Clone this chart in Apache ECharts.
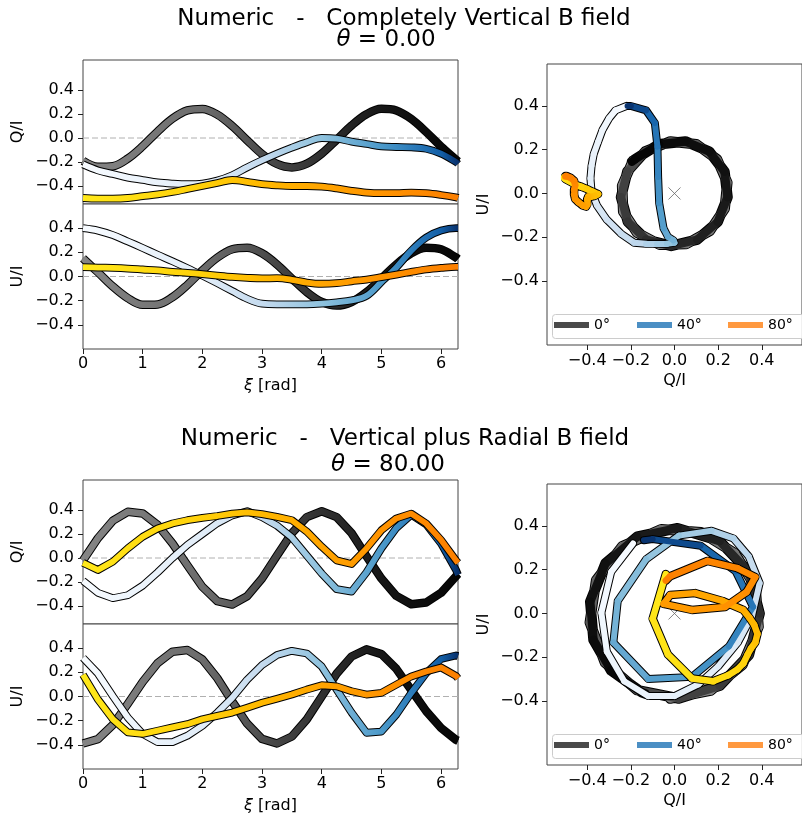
<!DOCTYPE html>
<html><head><meta charset="utf-8">
<script src="https://cdn.jsdelivr.net/npm/echarts@6/dist/echarts.min.js"></script>
<style>html,body{margin:0;padding:0;background:#fff}#c{width:802px;height:818px}</style>
</head><body><div id="c"></div><script>
// ---------------- data ----------------
const xi = [0,0.25,0.5,0.75,1,1.25,1.5,1.75,2,2.25,2.5,2.75,3,3.25,3.5,3.75,4,4.25,4.5,4.75,5,5.25,5.5,5.75,6,6.25,6.2832];
const xTicks = [0,1,2,3,4,5,6];
const yTicks = [-0.4,-0.2,0,0.2,0.4];
const angleNames = ['0°','40°','80°'];
const titlesRow1 = ['Numeric   -   Completely Vertical B field', '{i|θ} = 0.00'];
const titlesRow2 = ['Numeric   -   Vertical plus Radial B field', '{i|θ} = 80.00'];

// Row 1: completely vertical B field
const Q0_vert  = [-0.19,-0.24,-0.235,-0.172,-0.068,0.054,0.162,0.23,0.242,0.195,0.10,-0.019,-0.134,-0.216,-0.245,-0.214,-0.13,-0.015,0.104,0.198,0.243,0.229,0.159,0.05,-0.071,-0.18,-0.195];
const U0_vert  = [0.15,0.035,-0.083,-0.179,-0.234,-0.231,-0.171,-0.069,0.05,0.156,0.225,0.238,0.192,0.10,-0.017,-0.129,-0.211,-0.24,-0.211,-0.13,-0.017,0.10,0.192,0.238,0.225,0.157,0.145];
const Q40_vert = [-0.22,-0.27,-0.30,-0.33,-0.35,-0.37,-0.38,-0.385,-0.38,-0.355,-0.31,-0.245,-0.185,-0.13,-0.08,-0.035,0.0,-0.005,-0.03,-0.05,-0.07,-0.075,-0.078,-0.09,-0.13,-0.2,-0.215];
const U40_vert = [0.40,0.38,0.343,0.29,0.236,0.18,0.126,0.069,0.008,-0.055,-0.12,-0.184,-0.225,-0.23,-0.23,-0.23,-0.225,-0.214,-0.198,-0.16,-0.045,0.075,0.214,0.322,0.38,0.40,0.40];
const Q80_vert = [-0.50,-0.505,-0.505,-0.50,-0.485,-0.47,-0.45,-0.425,-0.40,-0.375,-0.35,-0.365,-0.385,-0.395,-0.40,-0.40,-0.405,-0.42,-0.44,-0.455,-0.46,-0.46,-0.455,-0.46,-0.475,-0.495,-0.50];
const U80_vert = [0.077,0.074,0.071,0.066,0.058,0.05,0.038,0.03,0.02,0.008,-0.003,-0.011,-0.016,-0.014,-0.027,-0.05,-0.06,-0.055,-0.04,-0.025,-0.005,0.016,0.038,0.058,0.071,0.08,0.08];

// Row 2: vertical plus radial B field
const Q0_rad  = [-0.02,0.165,0.311,0.385,0.371,0.276,0.121,-0.061,-0.24,-0.359,-0.388,-0.319,-0.171,0.02,0.207,0.341,0.39,0.341,0.207,0.014,-0.171,-0.316,-0.386,-0.371,-0.29,-0.152,-0.133];
const U0_rad  = [-0.389,-0.353,-0.235,-0.061,0.121,0.276,0.371,0.385,0.307,0.152,-0.041,-0.224,-0.351,-0.389,-0.331,-0.189,0.0,0.189,0.331,0.39,0.351,0.229,0.054,-0.121,-0.261,-0.359,-0.366];
const Q40_rad = [-0.19,-0.29,-0.335,-0.31,-0.23,-0.12,0.0,0.11,0.20,0.29,0.355,0.39,0.34,0.27,0.17,0.02,-0.13,-0.26,-0.28,-0.12,0.08,0.25,0.36,0.28,0.12,-0.10,-0.14];
const U40_rad = [0.32,0.19,0.003,-0.174,-0.31,-0.378,-0.378,-0.324,-0.242,-0.133,-0.011,0.139,0.261,0.343,0.378,0.356,0.248,0.057,-0.133,-0.30,-0.29,-0.15,0.03,0.193,0.31,0.34,0.335];
const Q80_rad = [-0.04,-0.10,-0.03,0.08,0.177,0.246,0.288,0.315,0.335,0.35,0.37,0.38,0.365,0.343,0.315,0.22,0.094,-0.02,-0.05,0.08,0.232,0.33,0.37,0.288,0.15,-0.02,-0.04];
const U80_rad = [0.18,-0.024,-0.188,-0.297,-0.31,-0.283,-0.256,-0.229,-0.188,-0.16,-0.133,-0.093,-0.052,-0.019,0.016,0.057,0.093,0.084,0.044,0.016,0.03,0.098,0.166,0.207,0.24,0.17,0.15];

// ---------------- styling ----------------
const TWO_PI = 6.2832;
const FONT = 'DejaVu Sans';
const greyStops   = [[0,'#858585'],[0.32,'#6c6c6c'],[0.56,'#3d3d3d'],[0.8,'#161616'],[1,'#050505']];
const blueStops   = [[0,'#f7fbff'],[0.32,'#e2edf8'],[0.48,'#c4daee'],[0.64,'#8dc1dd'],[0.8,'#4a98c9'],[0.875,'#2d7dbb'],[0.955,'#135fa7'],[1,'#08306b']];
const orangeStops = [[0,'#ffe81a'],[0.32,'#ffd00a'],[0.48,'#ffb800'],[0.64,'#ffa400'],[0.8,'#ff9300'],[1,'#fc7f00']];
const legendColors = ['#4a4a4a','#4b8fc4','#ff9940'];

function hex2rgb(h){return [parseInt(h.substr(1,2),16),parseInt(h.substr(3,2),16),parseInt(h.substr(5,2),16)];}
function colorAt(stops,t){
  t=Math.max(0,Math.min(1,t));
  for(let i=0;i<stops.length-1;i++){
    const [o0,c0]=stops[i],[o1,c1]=stops[i+1];
    if(t<=o1){const f=(t-o0)/(o1-o0);const a=hex2rgb(c0),b=hex2rgb(c1);
      return 'rgb('+a.map((v,k)=>Math.round(v+(b[k]-v)*f)).join(',')+')';}
  }
  return stops[stops.length-1][1];
}
const fmtY = v => v===0 ? '0.0' : (v<0?'\u2212':'')+Math.abs(v).toFixed(1);

// grid geometry
const LX=83, LW=375, RX=547, RW=260;
const rows = [
  {qTop:60, uTop:204, rTop:64},
  {qTop:480, uTop:624, rTop:484}
];
const grids=[], xAxes=[], yAxes=[], series=[], legends=[], graphics=[];

function baseAxis(){return {
  axisLine:{show:false,onZero:false}, splitLine:{show:false},
  axisTick:{show:true,length:5,lineStyle:{color:'#222',width:1}},
  axisLabel:{fontSize:16,fontFamily:FONT,color:'#000'},
  nameTextStyle:{fontSize:16,fontFamily:FONT,color:'#000'}
};}

function addLeftGrid(top,height,isQ){
  const gi=grids.length;
  grids.push({left:LX,top:top,width:LW,height:height,show:true,borderColor:'#444',borderWidth:1,backgroundColor:'#fff',containLabel:false});
  const xa=baseAxis();
  Object.assign(xa,{type:'value',gridIndex:gi,min:0,max:TWO_PI});
  xa.axisTick.customValues=xTicks; xa.axisLabel.customValues=xTicks;
  xa.axisTick.show=!isQ; xa.axisLabel.show=!isQ; xa.axisLabel.margin=7;
  if(!isQ){xa.name='{i|ξ} [rad]';xa.nameLocation='middle';xa.nameGap=29;
    xa.nameTextStyle.rich={i:{fontStyle:'italic',fontSize:16,fontFamily:FONT,color:'#000'}};}
  xAxes.push(xa);
  const ya=baseAxis();
  Object.assign(ya,{type:'value',gridIndex:gi,min:isQ?-0.55:-0.6,max:isQ?0.65:0.6,name:isQ?'Q/I':'U/I',nameLocation:'middle',nameGap:57});
  ya.axisTick.customValues=yTicks; ya.axisLabel.customValues=yTicks; ya.axisLabel.formatter=fmtY; ya.axisLabel.margin=9;
  yAxes.push(ya);
  return gi;
}
function addRightGrid(top){
  const gi=grids.length;
  grids.push({left:RX,top:top,width:RW,height:281,show:true,borderColor:'#444',borderWidth:1,backgroundColor:'#fff'});
  const xa=baseAxis();
  Object.assign(xa,{type:'value',gridIndex:gi,min:-0.584,max:0.584,name:'Q/I',nameLocation:'middle',nameGap:28});
  xa.axisTick.customValues=yTicks; xa.axisLabel.customValues=yTicks; xa.axisLabel.formatter=fmtY; xa.axisLabel.margin=8;
  xAxes.push(xa);
  const ya=baseAxis();
  Object.assign(ya,{type:'value',gridIndex:gi,min:-0.693,max:0.592,name:'U/I',nameLocation:'middle',nameGap:55});
  ya.axisTick.customValues=yTicks; ya.axisLabel.customValues=yTicks; ya.axisLabel.formatter=fmtY; ya.axisLabel.margin=8;
  yAxes.push(ya);
  return gi;
}

function zeroLine(gi){
  series.push({type:'line',xAxisIndex:gi,yAxisIndex:gi,data:[[0,0],[TWO_PI,0]],symbol:'none',silent:true,
    lineStyle:{color:'#b0b0b0',width:1,type:[6,3]},z:1});
}
function leftCurve(gi,vals,stops,w,smooth,k){
  const data=xi.map((x,i)=>[x,vals[i]]);
  series.push({type:'line',xAxisIndex:gi,yAxisIndex:gi,data,symbol:'none',smooth,silent:true,clip:true,
    lineStyle:{color:'#000',width:w+2,join:'round'},z:2+2*k});
  const grad=new echarts.graphic.LinearGradient(LX,0,LX+LW,0,stops.map(s=>({offset:s[0],color:s[1]})),true);
  series.push({type:'line',xAxisIndex:gi,yAxisIndex:gi,data,symbol:'none',smooth,silent:true,clip:true,
    lineStyle:{color:grad,width:w,join:'round'},z:3+2*k});
}
function rightCurve(gi,q,u,stops,w,name,k){
  const pts=q.map((v,i)=>[v,u[i]]);
  series.push({type:'line',xAxisIndex:gi,yAxisIndex:gi,data:pts,symbol:'none',silent:true,
    lineStyle:{color:'#000',width:w+2,join:'round',cap:'round'},z:2+2*k});
  const segs=[];
  for(let i=0;i<q.length-1;i++){
    segs.push({coords:[[q[i],u[i]],[q[i+1],u[i+1]]],
      lineStyle:{color:colorAt(stops,((xi[i]+xi[i+1])/2)/TWO_PI)}});
  }
  series.push({type:'lines',name,coordinateSystem:'cartesian2d',xAxisIndex:gi,yAxisIndex:gi,data:segs,silent:true,
    polyline:false,symbol:'none',effect:{show:false},
    lineStyle:{width:w,opacity:1,cap:'round',curveness:0},
    itemStyle:{color:stops[Math.floor(stops.length/2)][1]},z:3+2*k});
}

const rowData=[
  {q:[Q0_vert,Q40_vert,Q80_vert],u:[U0_vert,U40_vert,U80_vert],smooth:0.35},
  {q:[Q0_rad,Q40_rad,Q80_rad],u:[U0_rad,U40_rad,U80_rad],smooth:false}
];
const stopsList=[greyStops,blueStops,orangeStops];
const leftW=[6.5,5.8,5.8], rightW=[8.5,6,6.5];

rowData.forEach((rd,r)=>{
  const R=rows[r];
  const gq=addLeftGrid(R.qTop,144,true);
  const gu=addLeftGrid(R.uTop,145,false);
  const gr=addRightGrid(R.rTop);
  zeroLine(gq); zeroLine(gu);
  series.push({type:'scatter',xAxisIndex:gr,yAxisIndex:gr,data:[[0,0]],symbol:'path://M0,0L10,10M10,0L0,10',symbolSize:12,silent:true,
    itemStyle:{color:'none',borderColor:'#666',borderWidth:1},z:1});
  for(let k=0;k<3;k++){
    leftCurve(gq,rd.q[k],stopsList[k],leftW[k],rd.smooth,k);
    leftCurve(gu,rd.u[k],stopsList[k],leftW[k],rd.smooth,k);
    rightCurve(gr,rd.q[k],rd.u[k],stopsList[k],rightW[k],angleNames[k],k);
  }
  // legend frame + entries
  graphics.push({type:'rect',shape:{x:552.5,y:R.rTop+250.5,width:270,height:24,r:3},style:{fill:'rgba(255,255,255,0.85)',stroke:'#cccccc',lineWidth:1},z:50});
  const lx=[554,637,728];
  for(let k=0;k<3;k++){
    legends.push({left:lx[k],top:R.rTop+254,padding:0,itemWidth:35,itemHeight:6,selectedMode:false,
      data:[{name:angleNames[k],icon:'rect',itemStyle:{color:legendColors[k],borderWidth:0}}],
      textStyle:{fontSize:14,fontFamily:FONT,color:'#000',lineHeight:14},z:60});
  }
});

const titleStyle={fontSize:23,fontWeight:'normal',fontFamily:FONT,color:'#000',
  rich:{i:{fontStyle:'italic',fontSize:23,fontFamily:FONT,color:'#000'}}};
const titles=[
  {text:titlesRow1[0],left:399,top:3,textAlign:'center',textStyle:titleStyle},
  {text:titlesRow1[1],left:381,top:24,textAlign:'center',textStyle:titleStyle},
  {text:titlesRow2[0],left:400,top:423,textAlign:'center',textStyle:titleStyle},
  {text:titlesRow2[1],left:383,top:449,textAlign:'center',textStyle:titleStyle}
];

const chart=echarts.init(document.getElementById('c'),null,{renderer:'canvas'});
chart.setOption({
  animation:false,
  backgroundColor:'#fff',
  title:titles,
  grid:grids, xAxis:xAxes, yAxis:yAxes,
  legend:legends,
  graphic:graphics,
  series
});
</script></body></html>
